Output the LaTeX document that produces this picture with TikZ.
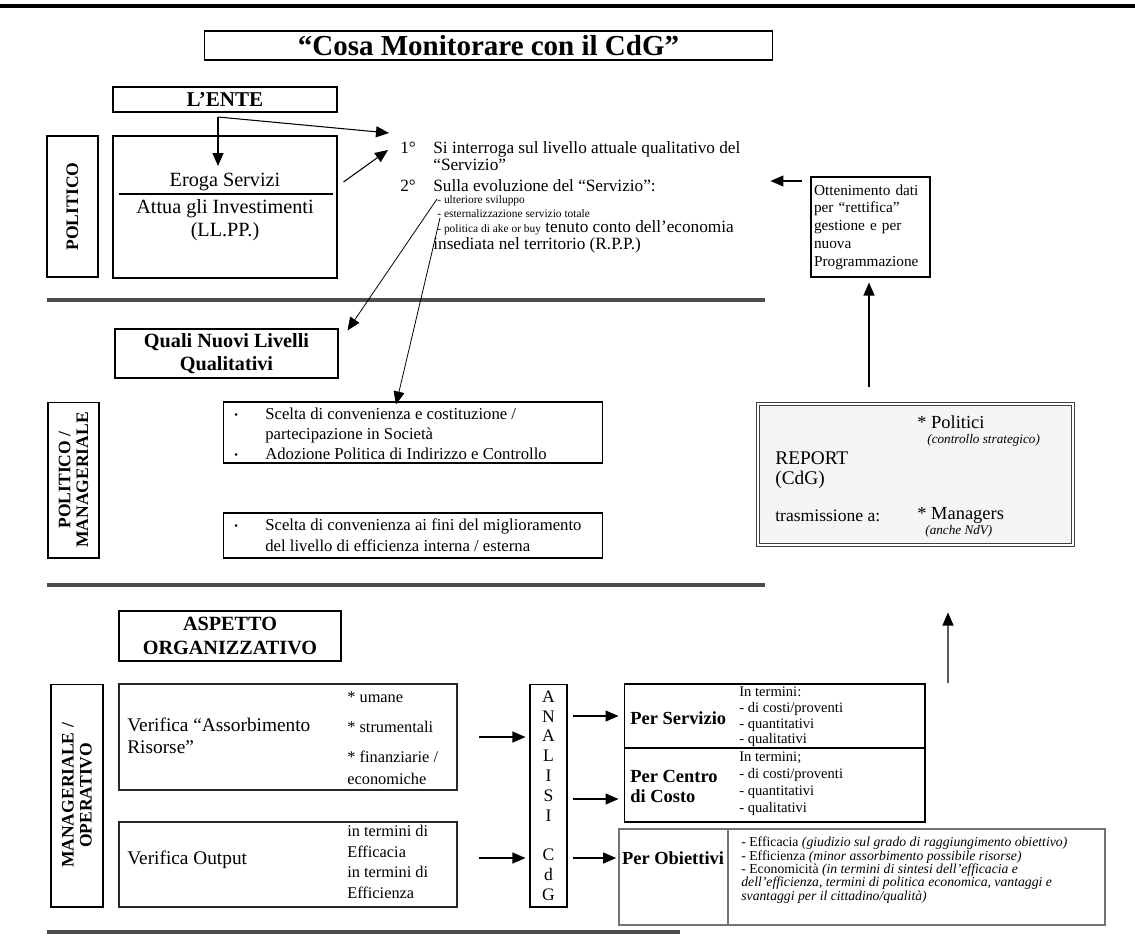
\documentclass[tikz,border=0pt]{standalone}
\usepackage{fontspec}
\setmainfont{Liberation Serif}
\usetikzlibrary{arrows.meta}
\newcommand{\fsz}[2]{\fontsize{#1}{#2}\selectfont}
\newcommand{\kbul}{\makebox[0.62cm][l]{\raisebox{0.6pt}{\fsz{6}{6}\textbullet}}}
\tikzset{
  box/.style={draw, line width=0.6pt, inner sep=0pt, align=center},
  kside/.style={box, rotate=90, font=\bfseries\fsz{10}{10.2}},
  kheavy/.style={box, line width=1.2pt, draw=black!85},
  ktext/.style={inner sep=0pt, anchor=west, align=left, font=\fsz{9.3}{9.7}},
  ktop/.style={ktext, font=\fsz{9.8}{9.7}},
  ktiny/.style={ktext, font=\fsz{6.5}{7}},
  ksmall/.style={ktext, font=\fsz{8.3}{8.9}},
  kdivider/.style={line width=2pt, draw=black!70},
  flow/.style={-{Triangle[length=2.6mm,width=2.2mm]}, line width=0.6pt},
  thinflow/.style={flow, line width=0.45pt},
}

\begin{document}
\begin{tikzpicture}[x=0.02cm, y=-0.02cm]
  \useasboundingbox (0,0) rectangle (1135,951);
  % rules across the page
  \draw[line width=2.2pt] (0,6) -- (1135,6);
  \draw[kdivider] (47,300) -- (765,300);
  \draw[kdivider] (47,585) -- (765,585);
  \draw[kdivider] (47,932) -- (680,932);

  \node[box, minimum width=11.38cm, minimum height=0.58cm, font=\bfseries\fsz{16.5}{16.5}] (title) at (488.5,45.5) {“Cosa Monitorare con il CdG”};

  % political level
  \node[box, minimum width=4.48cm, minimum height=0.5cm, font=\bfseries\fsz{12}{12}] (lente) at (225,99.5) {L’ENTE};
  \node[kside, minimum width=2.82cm, minimum height=1.02cm] (politico) at (72.5,206.5) {POLITICO};
  \node[box, minimum width=4.48cm, minimum height=2.84cm] (ente) at (225,207) {};
  \node[font=\fsz{11.5}{12}, inner sep=0pt] (eroga) at (225,182) {Eroga Servizi};
  \node[font=\fsz{11.5}{13.1}, inner sep=0pt, align=center] (attua) at (225,220) {Attua gli Investimenti\\(LL.PP.)};
  \draw[line width=0.6pt] (119,194) -- (333,194);

  \node[ktop] (n1) at (400,148) {1°};
  \node[ktop] (q1) at (433,156) {Si interroga sul livello attuale qualitativo del\\“Servizio”};
  \node[ktop] (n2) at (400,186) {2°};
  \node[ktop] (q2) at (433,186) {Sulla evoluzione del “Servizio”:};
  \node[ktiny] (u1) at (437,201) {- ulteriore sviluppo};
  \node[ktiny] (u2) at (437,213.5) {- esternalizzazione servizio totale};
  \node[ktop] (u3) at (437,228) {{\fsz{6.5}{7}- politica di ake or buy} tenuto conto dell’economia};
  \node[ktop] (u4) at (433,245) {insediata nel territorio (R.P.P.)};

  \coordinate (fork) at (218,117);
  \coordinate (ultA) at (437,199);
  \coordinate (polB) at (440,218);
  \coordinate (upfoot) at (948,683);
  \draw[flow] (fork) -- (218,166);
  \draw[flow] (fork) -- ([shift={(-11,-15)}]n1.west);
  \draw[flow] ([shift={(6,-25)}]ente.east) -- ([shift={(-12,2)}]n1.west);

  \node[box, minimum width=2.38cm, minimum height=2cm, text width=2.26cm, align=left, font=\fsz{8.7}{10.1}] (otten) at (870.5,227) {Ottenimento dati\\per “rettifica”\\gestione e per\\nuova\\Programmazione};
  \draw[flow] ([shift={(-8,-46)}]otten.west) -- ([shift={(-40,-46)}]otten.west);

  % politico / manageriale level
  \node[box, minimum width=4.46cm, minimum height=0.98cm, font=\bfseries\fsz{11.5}{13}] (quali) at (226.5,353.5) {Quali Nuovi Livelli\\Qualitativi};
  \node[kside, minimum width=3.12cm, minimum height=1.02cm] (polman) at (73.5,480) {POLITICO /\\MANAGERIALE};
  \node[box, minimum width=7.6cm, minimum height=1.22cm] (scelta) at (413,432.5) {};
  \node[ktext, font=\fsz{9.5}{11.4}] (sceltatx) at (234,434) {\kbul Scelta di convenienza e costituzione /\\\hspace*{0.62cm}partecipazione in Società\\\kbul Adozione Politica di Indirizzo e Controllo};
  \node[box, minimum width=7.6cm, minimum height=0.9cm] (miglior) at (413,535.5) {};
  \node[ktext, font=\fsz{9.5}{12}] (migliortx) at (234,535) {\kbul Scelta di convenienza ai fini del miglioramento\\\hspace*{0.62cm}del livello di efficienza interna / esterna};
  \draw[thinflow] (ultA) -- ([shift={(9,2)}]quali.north east);
  \draw[thinflow] (polB) -- ([shift={(-17,3)}]scelta.north);

  \node[box, double, double distance=1.2pt, draw=black!75, fill=black!4, minimum width=6.3cm, minimum height=2.82cm] (report) at (915.5,474.5) {};
  \node[ktext, font=\fsz{10.5}{11}] (pol) at (917,422) {* Politici};
  \node[ktext, font=\itshape\fsz{7.5}{8}] (polx) at (927,440) {(controllo strategico)};
  \node[ktext, font=\fsz{11}{11}] (rep) at (775,470) {REPORT\\(CdG)};
  \node[ktext, font=\fsz{10}{10}] (tras) at (775,516) {trasmissione a:};
  \node[ktext, font=\fsz{10.5}{11}] (man) at (917,515) {* Managers};
  \node[ktext, font=\itshape\fsz{7.5}{8}] (manx) at (925,531) {(anche NdV)};
  \draw[flow] ([shift={(-46.5,-16)}]report.north) -- ([shift={(-1.5,5)}]otten.south);
  \draw[flow] (upfoot) -- ([shift={(32.5,67)}]report.south);

  % organisational level
  \node[box, minimum width=4.44cm, minimum height=1.0cm, font=\bfseries\fsz{11.5}{13.6}] (aspetto) at (230,636) {ASPETTO\\ORGANIZZATIVO};
  \node[kside, minimum width=4.46cm, minimum height=1.04cm] (manop) at (77,795.5) {MANAGERIALE /\\OPERATIVO};
  \node[kheavy, minimum width=6.76cm, minimum height=2.12cm] (verass) at (288,737) {};
  \node[ktext, font=\fsz{11}{12.5}] (verasstx) at (127,736) {Verifica “Assorbimento\\Risorse”};
  \node[ktext] (umane) at (347,697) {* umane};
  \node[ktext] (strum) at (347,727) {* strumentali};
  \node[ktext, font=\fsz{9.3}{12.2}] (finanz) at (347,768) {* finanziarie /\\economiche};
  \node[kheavy, minimum width=6.76cm, minimum height=1.7cm] (verout) at (288,864.5) {};
  \node[ktext, font=\fsz{11}{12}] (verouttx) at (127,860) {Verifica Output};
  \node[ktext, font=\fsz{9.3}{11.8}] (termini) at (347,862) {in termini di\\Efficacia\\in termini di\\Efficienza};

  \node[box, minimum width=0.74cm, minimum height=4.46cm, font=\fsz{10}{11.27}] (analisi) at (548.5,795.5) {A\\N\\A\\L\\I\\S\\I\\[11.27pt]C\\d\\G};
  \draw[flow] ([xshift=0.42cm]verass.east) -- ([xshift=-0.08cm]analisi.west |- verass.east);
  \draw[flow] ([shift={(21,-6.5)}]verout.east) -- ([shift={(-4,-6.5)}]analisi.west |- verout.east);

  \node[box, minimum width=6.02cm, minimum height=1.28cm] (perserv) at (774.5,716) {};
  \node[box, minimum width=6.02cm, minimum height=1.48cm] (percentro) at (774.5,785) {};
  \node[ktext, font=\bfseries\fsz{10.5}{11}] (perservtx) at (630,718) {Per Servizio};
  \node[ksmall] (perservit) at (739,717) {In termini:\\- di costi/proventi\\- quantitativi\\- qualitativi};
  \node[ktext, font=\bfseries\fsz{10.5}{11.4}] (percentrotx) at (630,786) {Per Centro\\di Costo};
  \node[ksmall, font=\fsz{8.3}{9.6}] (percentroit) at (739,784) {In termini;\\- di costi/proventi\\- quantitativi\\- qualitativi};
  \node[box, draw=black!55, line width=1pt, minimum width=9.72cm, minimum height=1.92cm] (perobj) at (862,877) {};
  \draw[draw=black!55, line width=1pt] (728,829) -- (728,925);
  \node[font=\bfseries\fsz{10.5}{11}, inner sep=0pt] (perobjtx) at (673,858) {Per Obiettivi};
  \node[ktext, font=\fsz{7.8}{7.6}] (perobjit) at (741,870) {- Efficacia \textit{(giudizio sul grado di raggiungimento obiettivo)}\\- Efficienza \textit{(minor assorbimento possibile risorse)}\\- Economicità \textit{(in termini di sintesi dell’efficacia e}\\\textit{dell’efficienza, termini di politica economica, vantaggi e}\\\textit{svantaggi per il cittadino/qualità)}};
  \draw[flow] ([xshift=0.1cm]analisi.east |- perserv.west) -- ([xshift=-0.1cm]perserv.west);
  \draw[flow] ([shift={(5,14)}]analisi.east |- percentro.west) -- ([shift={(-5,14)}]percentro.west);
  \draw[flow] ([shift={(5,-19)}]analisi.east |- perobj.west) -- ([shift={(-2,-19)}]perobj.west);
\end{tikzpicture}
\end{document}
